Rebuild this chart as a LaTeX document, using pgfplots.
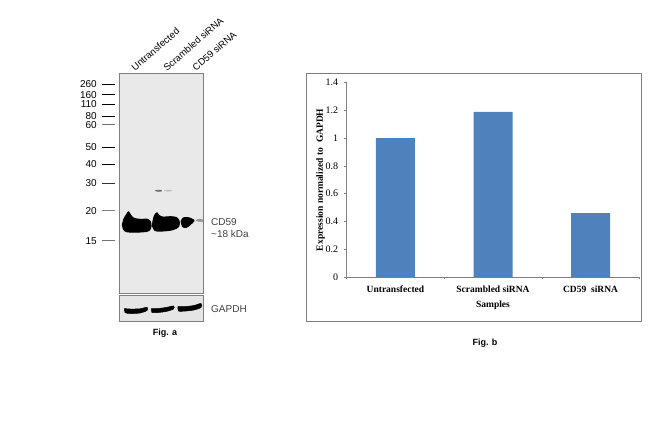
\documentclass[border=0pt]{standalone}
\usepackage{fontspec}
\setmainfont{Liberation Sans}
\newfontfamily\serif{Liberation Serif}
\usepackage{pgfplots}
\pgfplotsset{compat=1.18}
\definecolor{barblue}{HTML}{4F81BD}
\definecolor{blotbg}{HTML}{E9E9E9}
\definecolor{framegray}{HTML}{7F7F7F}
\begin{document}
\begin{tikzpicture}[x=1pt,y=1pt]
\useasboundingbox (0,0) rectangle (650,431);
% Fig. a, blot: coordinates are image pixels, y counted from the top
\begin{axis}[
  at={(119.3pt,137.7pt)}, anchor=south west, scale only axis,
  width=84pt, height=220pt,
  xmin=119.3, xmax=203.3, ymin=73.3, ymax=293.3, y dir=reverse,
  clip=false,
  axis line style={framegray, line width=0.8pt},
  axis background/.style={fill=blotbg},
  xtick={135,167,196}, xticklabels={Untransfected,Scrambled siRNA,CD59 siRNA},
  xticklabel pos=top,
  x tick label style={font=\fontsize{9.6}{10}\selectfont, rotate=41, anchor=south west, inner sep=1pt},
  ytick={84,94.7,104,116,124.7,147,164,183,210.7,240.7},
  yticklabels={260,160,110,80,60,50,40,30,20,15},
  y tick label style={font=\fontsize{10}{10}\selectfont, anchor=east, xshift=-19pt},
  major tick length=0pt,
  /pgf/number format/assume math mode=true,
]
\addplot[black, line width=0.95pt] coordinates {(101.7,84) (115,84)};
\addplot[black, line width=0.95pt] coordinates {(101.7,94.7) (115,94.7)};
\addplot[black, line width=0.95pt] coordinates {(101.7,104) (115,104)};
\addplot[black, line width=0.95pt] coordinates {(101.7,116) (115,116)};
\addplot[black!55, line width=0.95pt] coordinates {(101.7,124.7) (115,124.7)};
\addplot[black, line width=0.95pt] coordinates {(101.7,147) (115,147)};
\addplot[black, line width=0.95pt] coordinates {(101.7,164) (115,164)};
\addplot[black!80, line width=0.95pt] coordinates {(101.7,183) (115,183)};
\addplot[black!50, line width=0.95pt] coordinates {(101.7,210.7) (115,210.7)};
\addplot[black!55, line width=0.95pt] coordinates {(101.7,240.7) (115,240.7)};
% bands
\addplot[black, fill=black, smooth, tension=0.6, line width=1.2pt] coordinates {
  (122.5,225) (124,219) (127,214) (128.5,212) (130.5,215) (134,218.5) (142,219.5) (147,219.2) (150.5,222) (151,226) (149,230.5) (142,231.8) (130,232) (124.5,230.5) (122.5,225)};
\addplot[black, fill=black, smooth, tension=0.6, line width=1.2pt] coordinates {
  (152.5,225) (153.5,219) (155,215) (157,213) (159,215.5) (163,217.2) (170,216.8) (176,217.5) (179,221) (178.5,226.5) (172,229.8) (160,231) (154.5,230) (152.5,225)};
\addplot[black, fill=black, smooth, tension=0.6, line width=0.8pt] coordinates {
  (181,221.5) (183,218) (188,217.5) (193,219.5) (194,221) (190,225) (186,227.5) (182.5,226.5) (181,221.5)};
\addplot[gray, fill=gray, smooth, opacity=0.75] coordinates {
  (196,220.5) (199,219) (203,220) (203,221.5) (199,221.5) (196,220.5)};
\addplot[black!65, fill=black!65, smooth, opacity=0.8] coordinates {
  (155,190.8) (158,190) (161.7,190.3) (161.5,191.2) (158,191.4) (155,190.8)};
\addplot[black!25, fill=black!25, smooth] coordinates {
  (164,190.6) (168,190) (172,190.6) (168,191.3) (164,190.6)};
\end{axis}
% Fig. a, GAPDH strip
\begin{axis}[
  at={(119.3pt,109.7pt)}, anchor=south west, scale only axis,
  width=84pt, height=26pt,
  xmin=119.3, xmax=203.3, ymin=295.3, ymax=321.3, y dir=reverse,
  axis line style={framegray, line width=0.8pt},
  axis background/.style={fill=black!10},
  xtick=\empty, ytick=\empty,
]
\addplot[black, fill=black, smooth, tension=0.5, line width=0.5pt] coordinates {
  (124.5,308.5) (130,309) (140,308.8) (147,307.3) (147,310.5) (140,313) (130,313.5) (125,312.5) (124.5,308.5)};
\addplot[black, fill=black, smooth, tension=0.5, line width=0.5pt] coordinates {
  (151.5,308.5) (158,308.5) (166,307.5) (173.5,306) (173.5,309) (166,311.5) (158,312.5) (152,312.5) (151.5,308.5)};
\addplot[black, fill=black, smooth, tension=0.5, line width=0.5pt] coordinates {
  (178,306.5) (186,306.5) (194,305.5) (201,303.5) (201,307.5) (194,310) (186,311) (178.5,311) (178,306.5)};
\end{axis}
% Fig. b frame
\draw[framegray, line width=0.8pt] (306.7,110) rectangle (641.5,358);
% Fig. b, bars
\begin{axis}[
  at={(346.7pt,154pt)}, anchor=south west, scale only axis,
  width=292.6pt, height=194.3pt,
  xmin=0, xmax=3, ymin=0, ymax=1.4,
  axis x line*=bottom, axis y line*=left,
  axis line style={gray, -, line width=0.6pt},
  tick style={gray, line width=0.5pt},
  tick align=outside,
  ybar, bar width=39pt,
  xtick={0.5,1.5,2.5},
  xticklabels={Untransfected,Scrambled siRNA,CD59\ \ siRNA},
  major x tick style={draw=none},
  minor xtick={0,1,2,3},
  minor tick length=2pt,
  x tick label style={font=\serif\bfseries\fontsize{9.5}{10}\selectfont, yshift=-2pt},
  ytick={0,0.2,0.4,0.6,0.8,1,1.2,1.4},
  yticklabels={0,0.2,0.4,0.6,0.8,1,1.2,1.4},
  y tick label style={font=\serif\fontsize{10}{10}\selectfont, xshift=-2pt},
  major tick length=3pt,
  xlabel={Samples},
  xlabel style={font=\serif\bfseries\fontsize{9.5}{10}\selectfont, yshift=-2pt},
  ylabel={Expression normalized to\ \ GAPDH},
  ylabel style={font=\serif\bfseries\fontsize{9.5}{10}\selectfont, at={(ticklabel cs:0.5)}, yshift=-6pt},
  /pgf/number format/assume math mode=true,
]
\addplot[draw=none, fill=barblue] coordinates {(0.5,1) (1.5,1.19) (2.5,0.46)};
\end{axis}
\node[anchor=west, font=\fontsize{10}{12}\selectfont, text=black!75, inner sep=0] at (211,209) {CD59};
\node[anchor=west, font=\fontsize{10}{12}\selectfont, text=black!75, inner sep=0] at (211,197) {\textasciitilde18 kDa};
\node[anchor=west, font=\fontsize{10}{12}\selectfont, text=black!75, inner sep=0] at (211,122) {GAPDH};
\node[font=\bfseries\fontsize{9}{10}\selectfont, inner sep=0] at (165,98) {Fig. a};
\node[font=\bfseries\fontsize{9}{10}\selectfont, inner sep=0] at (485,88) {Fig. b};
\end{tikzpicture}
\end{document}
